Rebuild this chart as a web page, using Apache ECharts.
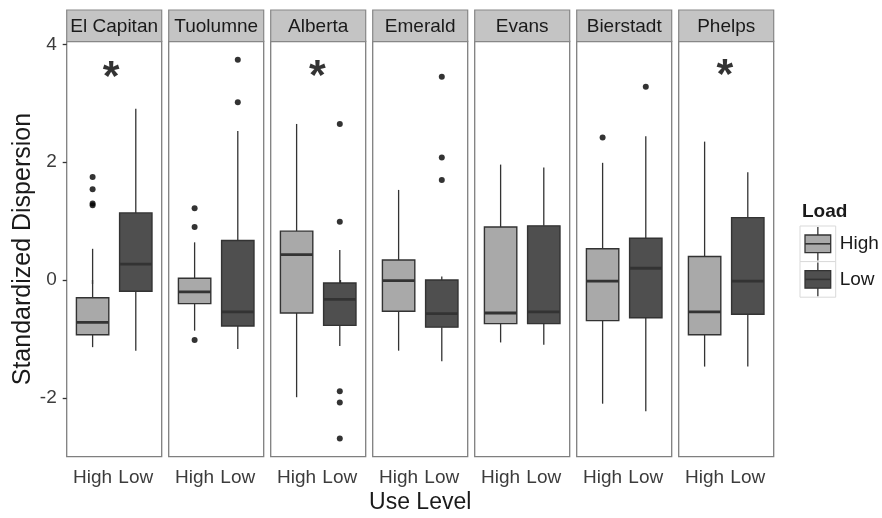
<!DOCTYPE html>
<html>
<head>
<meta charset="utf-8">
<script src="https://cdn.jsdelivr.net/npm/echarts@6/dist/echarts.min.js"></script>
<style>
html,body{margin:0;padding:0;background:#fff;}
#chart{width:882px;height:518px;}
</style>
</head>
<body>
<div id="chart"></div>
<script>
// ---- data ----
var sites = ['El Capitan', 'Tuolumne', 'Alberta', 'Emerald', 'Evans', 'Bierstadt', 'Phelps'];
var useLevels = ['High', 'Low'];
var loadLevels = ['High', 'Low'];
var yTicks = [-2, 0, 2, 4];
// [lower whisker, Q1, median, Q3, upper whisker]
var highBox = [
  [-1.14, -0.93, -0.72, -0.30, 0.53],
  [-0.86, -0.40, -0.20, 0.03, 0.64],
  [-1.99, -0.56, 0.43, 0.83, 2.65],
  [-1.20, -0.53, -0.01, 0.34, 1.53],
  [-1.06, -0.74, -0.56, 0.90, 1.96],
  [-2.10, -0.69, -0.02, 0.53, 1.99],
  [-1.47, -0.93, -0.54, 0.40, 2.35]
];
var lowBox = [
  [-1.20, -0.19, 0.27, 1.14, 2.91],
  [-1.17, -0.78, -0.54, 0.67, 2.53],
  [-1.12, -0.77, -0.33, -0.05, 0.51],
  [-1.38, -0.80, -0.57, 0.00, 0.06],
  [-1.10, -0.74, -0.54, 0.92, 1.91],
  [-2.23, -0.64, 0.20, 0.71, 2.44],
  [-1.47, -0.58, -0.02, 1.06, 1.83]
];
var highOutliers = [
  [1.75, 1.54, 1.30, 1.27],
  [1.22, 0.90, -1.02],
  [],
  [],
  [],
  [2.42],
  []
];
var lowOutliers = [
  [],
  [3.74, 3.02],
  [2.65, 0.99, -1.89, -2.08, -2.69],
  [3.45, 2.08, 1.70],
  [],
  [3.28],
  []
];
// significance marker position [x, y] in panel data units, null = none
var signif = [[1.43, 3.55], null, [1.48, 3.57], null, null, null, [1.47, 3.58]];

// ---- layout ----
var panelLeft0 = 66.7, panelPitch = 102, panelW = 95, panelTop = 41.5, panelH = 415.2;
var stripTop = 10;
var highFill = '#a9a9a9', lowFill = '#4f4f4f', edge = '#333333';
var tickColor = '#3c3c3c';

function boxRender(fill) {
  return function (params, api) {
    var x = api.value(0);
    var lo = api.coord([x, api.value(1)]);
    var q1 = api.coord([x, api.value(2)]);
    var md = api.coord([x, api.value(3)]);
    var q3 = api.coord([x, api.value(4)]);
    var hi = api.coord([x, api.value(5)]);
    var w = api.size([0.75, 0])[0];
    var cx = lo[0];
    return {
      type: 'group',
      children: [
        {type: 'line', shape: {x1: cx, y1: hi[1], x2: cx, y2: q3[1]}, style: {stroke: edge, lineWidth: 1.3}},
        {type: 'line', shape: {x1: cx, y1: q1[1], x2: cx, y2: lo[1]}, style: {stroke: edge, lineWidth: 1.3}},
        {type: 'rect', shape: {x: cx - w / 2, y: q3[1], width: w, height: q1[1] - q3[1]},
          style: {fill: fill, stroke: edge, lineWidth: 1.4}},
        {type: 'line', shape: {x1: cx - w / 2, y1: md[1], x2: cx + w / 2, y2: md[1]}, style: {stroke: edge, lineWidth: 2.8}}
      ]
    };
  };
}

var grids = [], xAxes = [], yAxes = [], series = [], graphics = [];
sites.forEach(function (site, i) {
  var left = panelLeft0 + panelPitch * i;
  grids.push({left: left, top: panelTop, width: panelW, height: panelH, show: true,
    borderColor: '#7f7f7f', borderWidth: 1.3, backgroundColor: '#ffffff'});
  xAxes.push({
    gridIndex: i, type: 'value', min: 0.4, max: 2.6,
    splitLine: {show: false}, axisLine: {show: false},
    axisTick: {show: true, customValues: [1, 2], length: 4, lineStyle: {color: '#333', width: 1.3}},
    axisLabel: {show: true, customValues: [1, 2], margin: 12, fontSize: 19, color: tickColor,
      fontFamily: 'Liberation Sans',
      formatter: function (v) { return useLevels[Math.round(v) - 1]; }}
  });
  yAxes.push({
    gridIndex: i, type: 'value', min: -3.0, max: 4.05,
    splitLine: {show: false}, axisLine: {show: false},
    axisTick: {show: i === 0, customValues: yTicks, length: 4, lineStyle: {color: '#333', width: 1.3}},
    axisLabel: {show: i === 0, customValues: yTicks, margin: 10, fontSize: 19, color: tickColor,
      fontFamily: 'Liberation Sans'},
    name: i === 0 ? 'Standardized Dispersion' : '',
    nameLocation: 'middle', nameGap: 30,
    nameTextStyle: {fontSize: 25, color: '#1a1a1a', fontFamily: 'Liberation Sans'}
  });
  series.push({
    type: 'custom', xAxisIndex: i, yAxisIndex: i, name: 'High',
    renderItem: boxRender(highFill),
    encode: {x: 0, y: [1, 2, 3, 4, 5]},
    data: [[1].concat(highBox[i])]
  });
  series.push({
    type: 'custom', xAxisIndex: i, yAxisIndex: i, name: 'Low',
    renderItem: boxRender(lowFill),
    encode: {x: 0, y: [1, 2, 3, 4, 5]},
    data: [[2].concat(lowBox[i])]
  });
  var outs = highOutliers[i].map(function (v) { return [1, v]; })
    .concat(lowOutliers[i].map(function (v) { return [2, v]; }));
  series.push({
    type: 'scatter', xAxisIndex: i, yAxisIndex: i, symbol: 'circle', symbolSize: 6,
    itemStyle: {color: '#000'}, silent: true, data: outs
  });
  if (signif[i]) {
    series.push({
      type: 'scatter', xAxisIndex: i, yAxisIndex: i, symbolSize: 0, silent: true,
      data: [signif[i]],
      label: {show: true, position: 'inside', formatter: '*', fontSize: 43, fontWeight: 'bold',
        color: '#000', fontFamily: 'Liberation Sans', offset: [0, 7]}
    });
  }
  graphics.push({
    type: 'rect', shape: {x: left, y: stripTop, width: panelW, height: panelTop - stripTop},
    style: {fill: '#c4c4c4', stroke: '#878787', lineWidth: 1.2}, z: 10
  });
  graphics.push({
    type: 'text', x: left + panelW / 2, y: stripTop + (panelTop - stripTop) / 2 + 1, z: 11,
    style: {text: site, fontSize: 19, fill: '#1a1a1a', fontFamily: 'Liberation Sans',
      textAlign: 'center', textVerticalAlign: 'middle'}
  });
});

// x axis title
graphics.push({
  type: 'text', x: panelLeft0 + (panelPitch * 6 + panelW) / 2, y: 503,
  style: {text: 'Use Level', fontSize: 23, fill: '#1a1a1a', fontFamily: 'Liberation Sans',
    textAlign: 'center', textVerticalAlign: 'middle'}
});

// legend (ggplot style)
var legX = 800, legY = 226, keyW = 35.7, keyH = 35.6;
graphics.push({
  type: 'text', x: 802, y: 212,
  style: {text: 'Load', fontSize: 19, fontWeight: 'bold', fill: '#1a1a1a', fontFamily: 'Liberation Sans',
    textAlign: 'left', textVerticalAlign: 'middle'}
});
[highFill, lowFill].forEach(function (fill, k) {
  var y0 = legY + k * keyH;
  var cx = legX + keyW / 2;
  graphics.push({type: 'rect', shape: {x: legX, y: y0, width: keyW, height: keyH},
    style: {fill: '#ffffff', stroke: '#d9d9d9', lineWidth: 1}});
  graphics.push({type: 'line', shape: {x1: cx, y1: y0 + 1, x2: cx, y2: y0 + keyH - 1},
    style: {stroke: edge, lineWidth: 1.3}});
  graphics.push({type: 'rect', shape: {x: legX + 5, y: y0 + 9, width: keyW - 10, height: keyH - 18},
    style: {fill: fill, stroke: edge, lineWidth: 1.3}});
  graphics.push({type: 'line', shape: {x1: legX + 5, y1: y0 + keyH / 2, x2: legX + keyW - 5, y2: y0 + keyH / 2},
    style: {stroke: edge, lineWidth: 1.6}});
  graphics.push({type: 'text', x: legX + keyW + 4, y: y0 + keyH / 2,
    style: {text: loadLevels[k], fontSize: 19, fill: '#1a1a1a', fontFamily: 'Liberation Sans',
      textAlign: 'left', textVerticalAlign: 'middle'}});
});

var chart = echarts.init(document.getElementById('chart'), null, {renderer: 'canvas'});
chart.setOption({
  animation: false,
  backgroundColor: '#ffffff',
  grid: grids,
  xAxis: xAxes,
  yAxis: yAxes,
  series: series,
  graphic: graphics
});
</script>
</body>
</html>
